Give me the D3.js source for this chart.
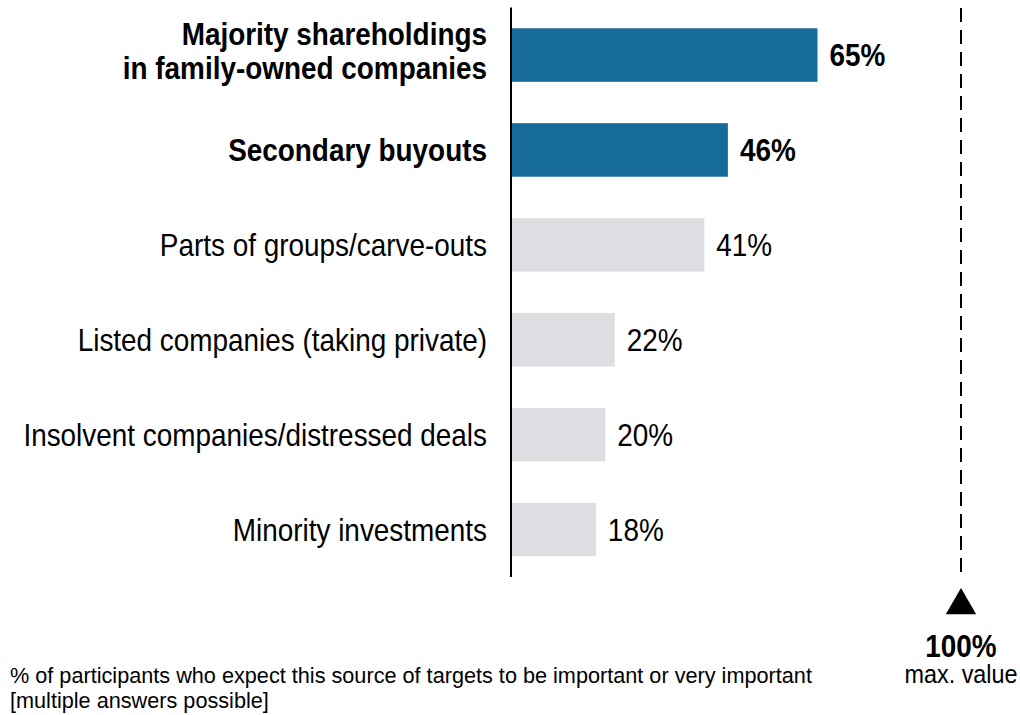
<!DOCTYPE html>
<html>
<head>
<meta charset="utf-8">
<script src="https://cdn.jsdelivr.net/npm/d3@7"></script>
<style>
  body { margin: 0; background: #fff; }
  svg text { font-family: "Liberation Sans Narrow", "Arial Narrow", "Liberation Sans", Arial, sans-serif; fill: #000; }
</style>
</head>
<body>
<svg id="chart"></svg>
<script>
// data
const categories = [
  ['Majority shareholdings', 'in family-owned companies'],
  ['Secondary buyouts'],
  ['Parts of groups/carve-outs'],
  ['Listed companies (taking private)'],
  ['Insolvent companies/distressed deals'],
  ['Minority investments']
];
const values = [65, 46, 41, 22, 20, 18];
const highlighted = [true, true, false, false, false, false];
const footnote = ['% of participants who expect this source of targets to be important or very important',
                  '[multiple answers possible]'];

const width = 1020, height = 715;
const narrow = 0.9;   // no narrow font installed, so squeeze the text
const svg = d3.select('#chart').attr('width', width).attr('height', height);

// scales
const x = d3.scaleLinear().domain([0, 100]).range([511, 982.5]);
const y = d3.scaleBand()
  .domain(d3.range(values.length))
  .range([7.6, 577])
  .paddingInner(0.436)
  .paddingOuter(0.218);

// bars
svg.selectAll('rect.bar')
  .data(values)
  .enter()
  .append('rect')
    .attr('class', 'bar')
    .attr('x', x(0))
    .attr('y', (d, i) => y(i))
    .attr('width', d => x(d) - x(0))
    .attr('height', y.bandwidth())
    .attr('fill', (d, i) => highlighted[i] ? '#176b9a' : '#dddee2');

// axis line
svg.append('line')
  .attr('x1', x(0)).attr('x2', x(0))
  .attr('y1', y.range()[0]).attr('y2', y.range()[1])
  .attr('stroke', '#000').attr('stroke-width', 2);

// category labels
const lab = svg.selectAll('text.cat')
  .data(categories)
  .enter()
  .append('text')
    .attr('class', 'cat')
    .attr('text-anchor', 'end')
    .attr('font-size', 31)
    .attr('font-weight', (d, i) => highlighted[i] ? 'bold' : 'normal')
    .attr('transform', (d, i) => {
      const cy = y(i) + y.bandwidth() / 2 - (d.length > 1 ? 4 : 0);
      return `translate(${x(0) - 24},${cy}) scale(${narrow},1)`;
    });

lab.each(function(d) {
  const t = d3.select(this);
  const lh = 34;
  d.forEach((line, j) => {
    t.append('tspan')
      .attr('x', 0)
      .attr('y', (j - (d.length - 1) / 2) * lh)
      .attr('dy', '0.36em')
      .text(line);
  });
});

// value labels
svg.selectAll('text.val')
  .data(values)
  .enter()
  .append('text')
    .attr('class', 'val')
    .attr('transform', (d, i) => `translate(${x(d) + 12},${y(i) + y.bandwidth() / 2}) scale(${narrow},1)`)
    .attr('dy', '0.36em')
    .attr('font-size', 31)
    .attr('font-weight', (d, i) => highlighted[i] ? 'bold' : 'normal')
    .text(d => d + '%');

// max value marker
const mx = 961;
svg.append('line')
  .attr('x1', mx).attr('x2', mx)
  .attr('y1', 8).attr('y2', 574)
  .attr('stroke', '#000').attr('stroke-width', 2)
  .attr('stroke-dasharray', '14,8');

svg.append('path')
  .attr('d', d3.symbol().type(d3.symbolTriangle).size(400))
  .attr('transform', `translate(${mx},605.5)`)
  .attr('fill', '#000');

svg.append('text')
  .attr('transform', `translate(${mx},657) scale(${narrow},1)`)
  .attr('text-anchor', 'middle')
  .attr('font-size', 31)
  .attr('font-weight', 'bold')
  .text('100%');

svg.append('text')
  .attr('transform', `translate(${mx},683) scale(${narrow},1)`)
  .attr('text-anchor', 'middle')
  .attr('font-size', 26)
  .text('max. value');

// footnote
svg.append('text')
  .attr('transform', 'translate(10,0) scale(0.985,1)')
  .attr('font-size', 22)
  .selectAll('tspan')
  .data(footnote)
  .enter()
  .append('tspan')
    .attr('x', 0)
    .attr('y', (d, i) => 683 + i * 25)
    .text(d => d);
</script>
</body>
</html>
